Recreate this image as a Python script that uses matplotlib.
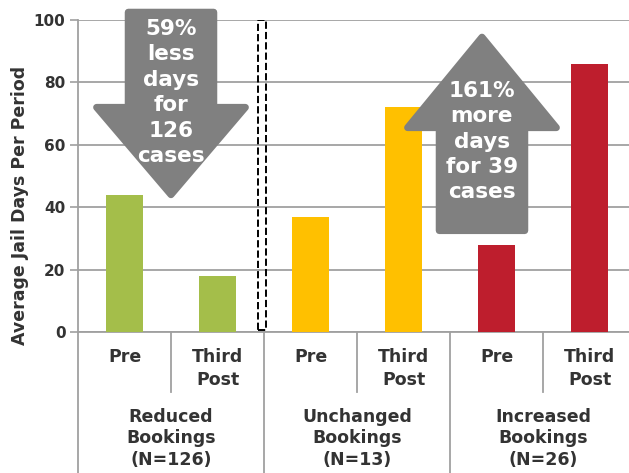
import matplotlib.pyplot as plt
from matplotlib.patches import Polygon, Rectangle

FONT = 'DejaVu Sans'
plt.rcParams['font.family'] = 'sans-serif'
plt.rcParams['font.sans-serif'] = [FONT]

# values
groups = ['Reduced\nBookings\n(N=126)', 'Unchanged\nBookings\n(N=13)', 'Increased\nBookings\n(N=26)']
periods = ['Pre', 'Third\nPost']
values = [44, 18, 37, 72, 28, 86]
group_colors = ['#A4BE4A', '#FFC000', '#BE1E2D']
yticks = [0, 20, 40, 60, 80, 100]

txt = '#333333'
grid = '#A0A0A0'
arrow_gray = '#808080'

fig = plt.figure(figsize=(6.29, 4.73), dpi=100)
ax = fig.add_axes([78 / 629, 141 / 473, 551 / 629, 312 / 473])

xs = list(range(len(values)))
bar_colors = [c for c in group_colors for _ in periods]
ax.bar(xs, values, width=0.4, color=bar_colors, zorder=3)

ax.set_xlim(-0.5, -0.5 + 551 / 93)
ax.set_ylim(0, 100)
ax.set_yticks(yticks)
ax.set_yticklabels([str(t) for t in yticks], fontsize=11, fontweight='bold',
                   color=txt, family=FONT)
ax.set_xticks([])
ax.tick_params(axis='y', length=6, width=1.2, color=grid, pad=3)
ax.yaxis.grid(True, color=grid, linewidth=1.3, zorder=0)
ax.set_axisbelow(True)
for s in ['top', 'right']:
    ax.spines[s].set_visible(False)
for s in ['left', 'bottom']:
    ax.spines[s].set_color(grid)
    ax.spines[s].set_linewidth(1.3)

fig.text(20 / 629, 1 - 205 / 473, 'Average Jail Days Per Period', rotation=90,
         ha='center', va='center', fontsize=12.5, fontweight='bold', color=txt,
         family=FONT)

# category labels and separators below the axis
for i, x in enumerate(xs):
    p = periods[i % len(periods)]
    ax.text(x, -11.7 if '\n' in p else -8, p, ha='center', va='center',
            fontsize=12.5, fontweight='bold', color=txt, linespacing=1.3,
            family=FONT, clip_on=False)
for k, g in enumerate(groups):
    ax.text(2 * k + 0.5, -34, g, ha='center', va='center', fontsize=12.5,
            fontweight='bold', color=txt, linespacing=1.25, family=FONT,
            clip_on=False)
for x in [0.5, 2.5, 4.5]:
    ax.plot([x, x], [0, -19.2], color=grid, linewidth=1.3, clip_on=False)
for x in [-0.5, 1.5, 3.5]:
    ax.plot([x, x], [0, -46], color=grid, linewidth=1.3, clip_on=False)

# dashed divider box
ax.add_patch(Rectangle((1.435, 0.6), 0.087, 99.4, fill=False, edgecolor='black',
                       linestyle='--', linewidth=1.4, zorder=4))

# down arrow
cx, sw, hw = 0.5, 0.46, 0.80
down = [(cx - sw, 102.5), (cx + sw, 102.5), (cx + sw, 72), (cx + hw, 72),
        (cx, 44), (cx - hw, 72), (cx - sw, 72)]
ax.add_patch(Polygon(down, closed=True, facecolor=arrow_gray, edgecolor=arrow_gray,
                     linewidth=5, joinstyle='round', zorder=5, clip_on=False))
ax.text(cx, 76.8, '59%\nless\ndays\nfor\n126\ncases', ha='center', va='center',
        fontsize=15.5, fontweight='bold', color='white', linespacing=1.34,
        family=FONT, zorder=6)

# up arrow
cx = 3.844
up = [(cx, 94.5), (cx + hw, 65.5), (cx + sw, 65.5), (cx + sw, 32.5),
      (cx - sw, 32.5), (cx - sw, 65.5), (cx - hw, 65.5)]
ax.add_patch(Polygon(up, closed=True, facecolor=arrow_gray, edgecolor=arrow_gray,
                     linewidth=5, joinstyle='round', zorder=5, clip_on=False))
ax.text(cx, 61, '161%\nmore\ndays\nfor 39\ncases', ha='center', va='center',
        fontsize=15.5, fontweight='bold', color='white', linespacing=1.33,
        family=FONT, zorder=6)

fig.savefig('out.png', dpi=100)
